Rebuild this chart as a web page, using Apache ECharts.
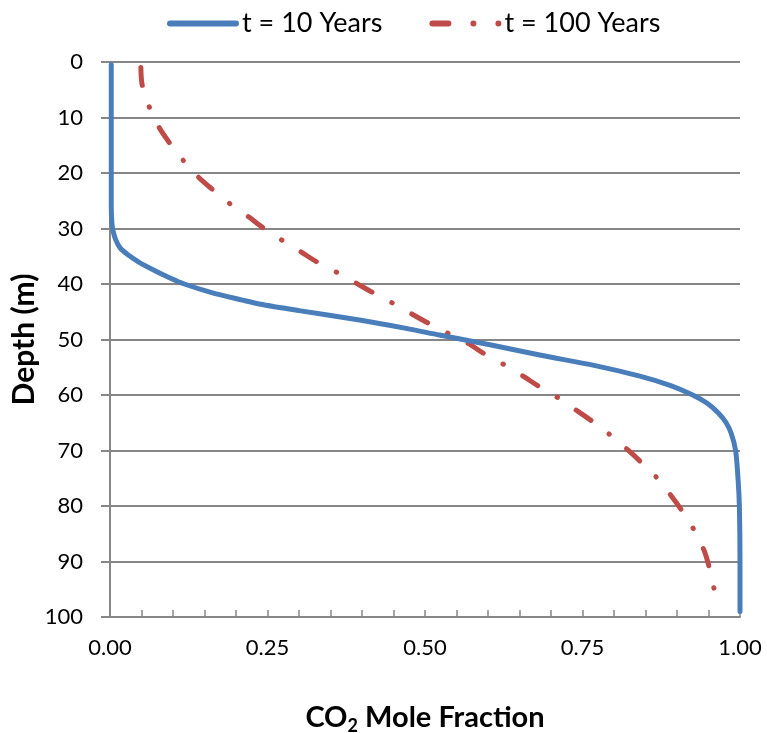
<!DOCTYPE html>
<html>
<head>
<meta charset="utf-8">
<script src="https://cdn.jsdelivr.net/npm/echarts@6/dist/echarts.min.js"></script>
<style>
html,body{margin:0;padding:0;background:#fff;}
#chart{width:767px;height:733px;}
</style>
</head>
<body>
<div id="chart"></div>
<script>
// t = 10 years: depth (m) and CO2 mole fraction
var depth10 = [0.5, 10, 20, 26, 29, 30.5, 32, 33.5, 34.7, 36, 37.7, 39, 40, 41.5, 42.9, 43.6, 44.8, 46.5, 48, 49.2, 51, 52.8, 54.7, 56.6, 58.3, 60, 61.5, 63.3, 65, 66.9, 70, 75.3, 80, 90, 99];
var frac10  = [0.002, 0.002, 0.002, 0.002, 0.003, 0.005, 0.009, 0.016, 0.028, 0.045, 0.073, 0.097, 0.118, 0.16, 0.21, 0.237, 0.30, 0.396, 0.47, 0.523, 0.605, 0.682, 0.77, 0.841, 0.89, 0.925, 0.948, 0.966, 0.978, 0.986, 0.993, 0.997, 0.999, 1.0, 1.0];
// t = 100 years
var depth100 = [1.0, 4.1, 8.0, 11.8, 14.5, 17.7, 20.7, 22.9, 25.5, 27.9, 29.8, 32.1, 34.2, 36.0, 37.9, 39.8, 41.6, 43.4, 45.4, 47.1, 48.9, 50.8, 52.5, 54.5, 56.7, 58.4, 60.5, 62.8, 64.7, 67.2, 69.9, 72.0, 74.9, 78.2, 80.7, 84.3, 88.0, 91.0, 95.0];
var frac100  = [0.049, 0.051, 0.062, 0.078, 0.094, 0.116, 0.14, 0.162, 0.19, 0.22, 0.242, 0.273, 0.303, 0.328, 0.36, 0.39, 0.418, 0.448, 0.479, 0.506, 0.537, 0.57, 0.593, 0.625, 0.657, 0.68, 0.711, 0.741, 0.765, 0.794, 0.822, 0.842, 0.868, 0.891, 0.907, 0.927, 0.943, 0.951, 0.959];
var seriesNames = ['t = 10 Years', 't = 100 Years'];
var xTicks = [0, 0.25, 0.5, 0.75, 1.0];
var yTicks = [0, 10, 20, 30, 40, 50, 60, 70, 80, 90, 100];

function pairs(xs, ys){ return xs.map(function(x,i){ return [x, ys[i]]; }); }

var FONT = 'Lato';
var blueIcon = 'path://M3,0 H69 A3,3 0 0 1 69,6 H3 A3,3 0 0 1 3,0 Z';
var redIcon = 'path://M3,0 H19 A3,3 0 0 1 19,6 H3 A3,3 0 0 1 3,0 Z M41,3 A3,3 0 1 0 47,3 A3,3 0 1 0 41,3 Z M66,3 A3,3 0 1 0 72,3 A3,3 0 1 0 66,3 Z';

var chart = echarts.init(document.getElementById('chart'), null, {renderer:'canvas'});
chart.setOption({
  animation: false,
  textStyle: {fontFamily: FONT},
  legend: {
    top: 5, left: 162,
    itemWidth: 72, itemHeight: 6, itemGap: 47,
    textStyle: {fontFamily: FONT, fontSize: 27, color: '#000', padding: [0,0,0,-2]},
    data: [{name: seriesNames[0], icon: blueIcon}, {name: seriesNames[1], icon: redIcon}]
  },
  grid: {left: 110, right: 27, top: 62, bottom: 116, containLabel: false, outerBoundsMode: 'none'},
  xAxis: {
    type: 'value', min: xTicks[0], max: xTicks[xTicks.length-1], interval: 0.25,
    name: 'CO{sub|2} Mole Fraction', nameLocation: 'middle', nameGap: 84,
    nameTextStyle: {fontFamily: FONT, fontSize: 29, fontWeight: 'bold', color: '#000',
      rich: {sub: {fontFamily: FONT, fontSize: 18, fontWeight: 'bold', color: '#000', verticalAlign: 'bottom', padding: [16,0,0,0]}}},
    axisLine: {show: true, onZero: false, lineStyle: {color: '#868686', width: 2}},
    axisTick: {show: true, inside: true, length: 7, lineStyle: {color: '#868686', width: 1.5}},
    minorTick: {show: true, splitNumber: 5, length: 7, lineStyle: {color: '#868686', width: 1.5}},
    splitLine: {show: false},
    axisLabel: {fontFamily: FONT, fontSize: 22, color: '#000', margin: 20,
      formatter: function(v){ return v.toFixed(2); }}
  },
  yAxis: {
    type: 'value', inverse: true, min: yTicks[0], max: yTicks[yTicks.length-1], interval: 10,
    name: 'Depth (m)', nameLocation: 'middle', nameGap: 71, nameRotate: 90, nameMoveOverlap: false,
    nameTextStyle: {fontFamily: FONT, fontSize: 30, fontWeight: 'bold', color: '#000'},
    axisLine: {show: true, onZero: false, lineStyle: {color: '#868686', width: 2}},
    axisTick: {show: true, inside: false, length: 9, lineStyle: {color: '#868686', width: 2}},
    splitLine: {show: true, lineStyle: {color: '#868686', width: 2}},
    axisLabel: {fontFamily: FONT, fontSize: 22, color: '#000', margin: 27}
  },
  series: [
    {
      name: seriesNames[0], type: 'line', showSymbol: false, symbol: 'none',
      smooth: 0.3,
      data: pairs(frac10, depth10),
      lineStyle: {color: '#4A7EBB', width: 5, cap: 'round', join: 'round'},
      itemStyle: {color: '#4A7EBB'}, z: 3
    },
    {
      name: seriesNames[1], type: 'line', showSymbol: false, symbol: 'none',
      smooth: 0.3,
      data: pairs(frac100, depth100),
      lineStyle: {color: '#BE4B48', width: 5, type: [18, 22.5, 0.5, 22.5], cap: 'round', join: 'round'},
      itemStyle: {color: '#BE4B48'}, z: 2
    }
  ]
});
</script>
</body>
</html>
